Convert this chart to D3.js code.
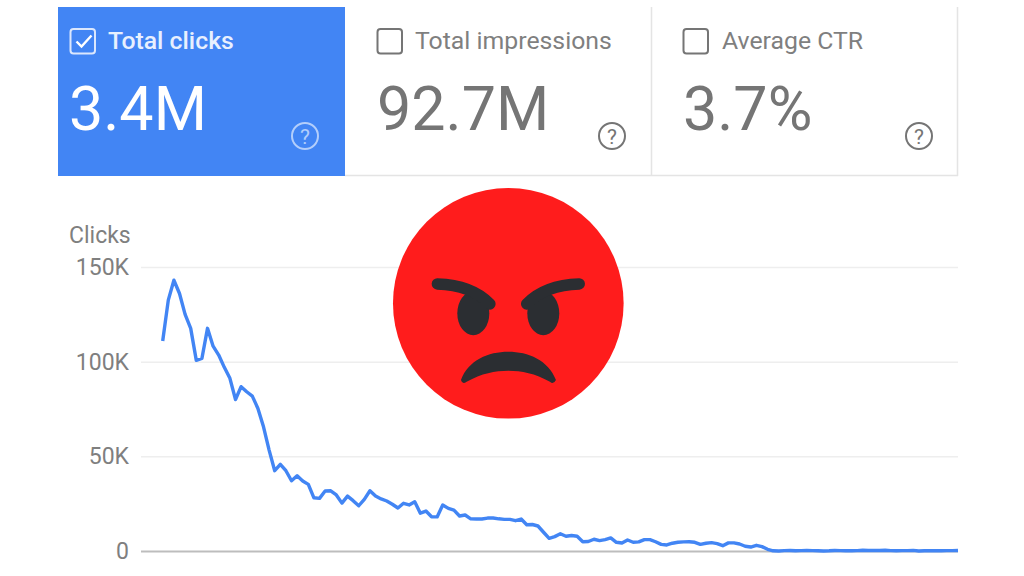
<!DOCTYPE html>
<html>
<head>
<meta charset="utf-8">
<script src="https://cdn.jsdelivr.net/npm/d3@7"></script>
<style>
  html, body { margin: 0; padding: 0; background: #fff; }
  svg { display: block; }
  text { font-family: Roboto, sans-serif; }
</style>
</head>
<body>
<div id="chart-area"></div>
<script>
// metric tiles
const tileLabels = ["Total clicks", "Total impressions", "Average CTR"];
const tileValues = ["3.4M", "92.7M", "3.7%"];
const tileSelected = [true, false, false];

// axis ticks, in thousands of clicks
const yTicks = [0, 50, 100, 150];

// daily clicks, in thousands
const clicks = [
    110.9, 132.5, 143, 136, 125, 117.6, 100.7, 101.7, 117.6, 108.2,
    103.5, 97, 91.2, 80, 86.8, 84.1, 81.8, 75.3, 65.6, 53.3,
    42.4, 45.8, 42.4, 37.1, 39.7, 37, 35.2, 28.1, 27.8, 31.7,
    31.8, 29.6, 25.3, 29, 26.6, 23.9, 27.3, 31.8, 29, 27.5,
    26.4, 24.7, 22.7, 25.2, 24.3, 26, 20, 21.1, 18.1, 18,
    24.3, 22.5, 21.6, 18.5, 19, 17, 16.9, 16.9, 17.4, 17.4,
    17, 16.7, 16.7, 16, 16.9, 13.9, 14, 13.2, 9.9, 6.7,
    7.6, 9.1, 7.8, 8.2, 7.8, 4.9, 5, 6.2, 5.5, 6,
    6.9, 4.6, 4.2, 5.8, 4.6, 4.8, 6, 6, 4.9, 3.5,
    3.2, 4.1, 4.6, 4.8, 4.9, 4.6, 3.5, 4.1, 4.4, 3.9,
    2.8, 4.3, 4.3, 3.7, 2.5, 2.1, 3, 2.3, 0.9, 0.1,
    0, 0.2, 0.3, 0.1, 0.2, 0.3, 0.2, 0.1, 0, 0.1,
    0.3, 0.2, 0.1, 0.1, 0.2, 0.4, 0.3, 0.3, 0.3, 0.4,
    0.2, 0.1, 0.2, 0.2, 0.3, 0, 0.1, 0.1, 0.2, 0.1,
    0.2, 0.2, 0.3
];

const full_width = 1024, full_height = 576;

const svg = d3.select("#chart-area").append("svg")
    .attr("width", full_width)
    .attr("height", full_height);

// Tiles
const tileX = d3.scaleOrdinal().domain(tileLabels).range([58, 345, 651]);
const tileWidth = { "Total clicks": 287, "Total impressions": 306, "Average CTR": 307 };
const grey = "#757575";

const tiles = svg.selectAll(".tile").data(tileLabels).enter().append("g")
    .attr("class", "tile")
    .attr("transform", d => "translate(" + tileX(d) + ", 7)");

tiles.append("rect")
    .attr("width", d => tileWidth[d])
    .attr("height", 169)
    .attr("fill", (d, i) => tileSelected[i] ? "#4285f4" : "#fff");

// right and bottom edges of the white tiles
svg.append("path")
    .attr("d", "M651.5,7V176M957.5,7V176M345,175.5H958")
    .attr("fill", "none")
    .attr("stroke", "#e4e4e4")
    .attr("stroke-width", 1.5);

tiles.append("rect")
    .attr("x", (d, i) => i == 0 ? 12.5 : 32.5)
    .attr("y", 22)
    .attr("width", 24.5)
    .attr("height", 24.5)
    .attr("rx", 3)
    .attr("fill", "none")
    .attr("stroke", (d, i) => tileSelected[i] ? "#dbe7fd" : grey)
    .attr("stroke-width", 2);

tiles.filter((d, i) => tileSelected[i]).append("path")
    .attr("d", "M18.5,34.5l5,5l10,-11")
    .attr("fill", "none")
    .attr("stroke", "#fff")
    .attr("stroke-width", 2.4);

tiles.append("text")
    .attr("x", (d, i) => i == 0 ? 50 : (i == 1 ? 70 : 71))
    .attr("y", 42)
    .attr("font-size", "24.8px")
    .attr("font-weight", (d, i) => tileSelected[i] ? 500 : 400)
    .attr("fill", (d, i) => tileSelected[i] ? "#e8f0fe" : "#7f7f7f")
    .text(d => d);

tiles.append("text")
    .attr("x", (d, i) => i == 0 ? 11 : (i == 1 ? 32 : 32))
    .attr("y", 123)
    .attr("font-size", "61px")
    .attr("fill", (d, i) => tileSelected[i] ? "#fff" : grey)
    .text((d, i) => tileValues[i]);

// help icons
const helpIcon = tiles.append("g")
    .attr("transform", (d, i) => "translate(" + (i == 0 ? 247 : (i == 1 ? 267 : 268)) + ", 129)");

helpIcon.append("circle")
    .attr("r", 13)
    .attr("fill", "none")
    .attr("stroke", (d, i) => tileSelected[i] ? "#b3cefb" : grey)
    .attr("stroke-width", 2);

helpIcon.append("text")
    .attr("text-anchor", "middle")
    .attr("y", 7.5)
    .attr("font-size", "21px")
    .attr("fill", (d, i) => tileSelected[i] ? "#b3cefb" : grey)
    .text("?");

// Scales
const x = d3.scaleLinear()
    .domain([0, clicks.length - 1])
    .range([162.7, 958]);

const y = d3.scaleLinear()
    .domain([0, 150])
    .range([551, 267]);

// Y Axis, ticks double as the gridlines
const yAxisCall = d3.axisLeft(y)
    .tickValues(yTicks)
    .tickSize(-817)
    .tickPadding(12)
    .tickFormat(d => d == 0 ? "0" : d + "K");

const yAxis = svg.append("g")
    .attr("class", "y-axis")
    .attr("transform", "translate(141, 0)")
    .call(yAxisCall);

yAxis.select(".domain").remove();
yAxis.selectAll("line")
    .attr("stroke", d => d == 0 ? "#bdbdbd" : "#eeeeee")
    .attr("stroke-width", d => d == 0 ? 2 : 1.5);
yAxis.selectAll("text")
    .attr("font-size", "23px")
    .attr("font-family", "Roboto, sans-serif")
    .attr("fill", "#7f7f7f");

// Y Label
svg.append("text")
    .attr("class", "y axis-label")
    .attr("x", 69)
    .attr("y", 243)
    .attr("font-size", "23px")
    .attr("fill", "#7f7f7f")
    .text("Clicks");

// Line
const line = d3.line()
    .x((d, i) => x(i))
    .y(d => y(d));

svg.append("path")
    .datum(clicks)
    .attr("d", line)
    .attr("fill", "none")
    .attr("stroke", "#4285f4")
    .attr("stroke-width", 3.4)
    .attr("stroke-linejoin", "round");

// Angry face on top of the chart
const face = svg.append("g")
    .attr("transform", "translate(508.3, 303.3) scale(0.3333) translate(-370, -370)");
const faceDark = "#2b2e32";

face.append("circle")
    .attr("cx", 370).attr("cy", 370).attr("r", 346)
    .attr("fill", "#ff1c1c");

face.selectAll("ellipse").data([265, 475]).enter().append("ellipse")
    .attr("cx", d => d).attr("cy", 400).attr("rx", 48).attr("ry", 66)
    .attr("fill", faceDark);

face.selectAll(".brow").data(["M157,312Q260,315 315,372", "M583,312Q480,315 425,372"]).enter().append("path")
    .attr("class", "brow")
    .attr("d", d => d)
    .attr("fill", "none")
    .attr("stroke", faceDark)
    .attr("stroke-width", 34)
    .attr("stroke-linecap", "round");

face.append("path")
    .attr("d", "M228,600C250,540 310,515 370,515C430,515 490,540 513,600Q505,615 495,605C450,580 410,572 370,572C330,572 290,580 245,605Q232,615 228,600Z")
    .attr("fill", faceDark);
</script>
</body>
</html>
